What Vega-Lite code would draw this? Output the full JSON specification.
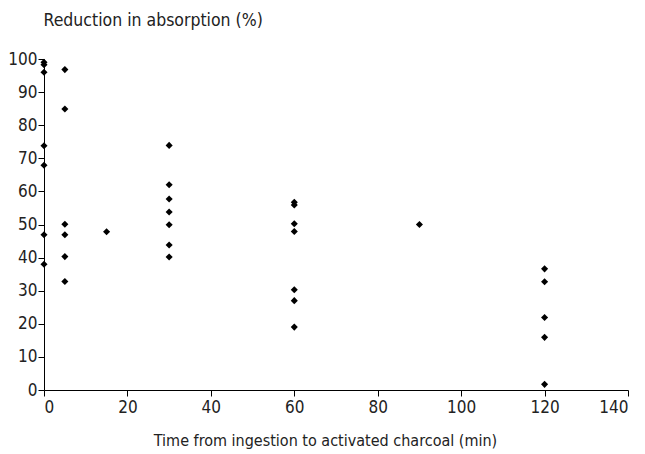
{
  "$schema": "https://vega.github.io/schema/vega-lite/v6.json",
  "autosize": "none",
  "width": 584,
  "height": 331,
  "padding": {"left": 44, "top": 59, "right": 17, "bottom": 64},
  "background": "white",
  "config": {"view": {"stroke": null}, "font": "DejaVu Sans Condensed, Roboto, sans-serif"},
  "data": {"values": [
    {"t": 0, "r": 99.0}, {"t": 0, "r": 98.3}, {"t": 0, "r": 96.0}, {"t": 0, "r": 73.8}, {"t": 0, "r": 67.9}, {"t": 0, "r": 46.9}, {"t": 0, "r": 38.0},
    {"t": 5, "r": 96.8}, {"t": 5, "r": 84.9}, {"t": 5, "r": 50.1}, {"t": 5, "r": 46.9}, {"t": 5, "r": 40.3}, {"t": 5, "r": 32.8},
    {"t": 15, "r": 47.8},
    {"t": 30, "r": 73.9}, {"t": 30, "r": 62.0}, {"t": 30, "r": 57.7}, {"t": 30, "r": 53.8}, {"t": 30, "r": 49.9}, {"t": 30, "r": 43.8}, {"t": 30, "r": 40.2},
    {"t": 60, "r": 56.7}, {"t": 60, "r": 55.9}, {"t": 60, "r": 50.2}, {"t": 60, "r": 47.9}, {"t": 60, "r": 30.3}, {"t": 60, "r": 27.0}, {"t": 60, "r": 19.0},
    {"t": 90, "r": 50.0},
    {"t": 120, "r": 36.6}, {"t": 120, "r": 32.7}, {"t": 120, "r": 21.9}, {"t": 120, "r": 15.9}, {"t": 120, "r": 1.7}
  ]},
  "mark": {"type": "point", "shape": "diamond", "filled": true, "color": "black", "size": 50, "opacity": 1},
  "encoding": {
    "x": {"field": "t", "type": "quantitative",
      "scale": {"domain": [0, 140], "nice": false, "zero": false},
      "axis": {"values": [0, 20, 40, 60, 80, 100, 120, 140], "grid": false, "domainColor": "black", "tickColor": "black", "tickSize": 6,
        "labelFontSize": 17, "labelColor": "#222", "labelPadding": 3,
        "title": "Time from ingestion to activated charcoal (min)", "titleFontSize": 16, "titleFontWeight": "normal", "titleColor": "#222",
        "titleX": 281, "titleY": 50, "titleBaseline": "middle", "titleAnchor": null}},
    "y": {"field": "r", "type": "quantitative",
      "scale": {"domain": [0, 100], "nice": false},
      "axis": {"values": [0, 10, 20, 30, 40, 50, 60, 70, 80, 90, 100], "grid": false, "domainColor": "black", "tickColor": "black", "tickSize": 6,
        "labelFontSize": 17, "labelColor": "#222", "labelPadding": 1,
        "title": "Reduction in absorption (%)", "titleFontSize": 17.5, "titleFontWeight": "normal", "titleColor": "#222",
        "titleAngle": 0, "titleAlign": "left", "titleBaseline": "middle", "titleX": -1, "titleY": -39}}
  }
}
